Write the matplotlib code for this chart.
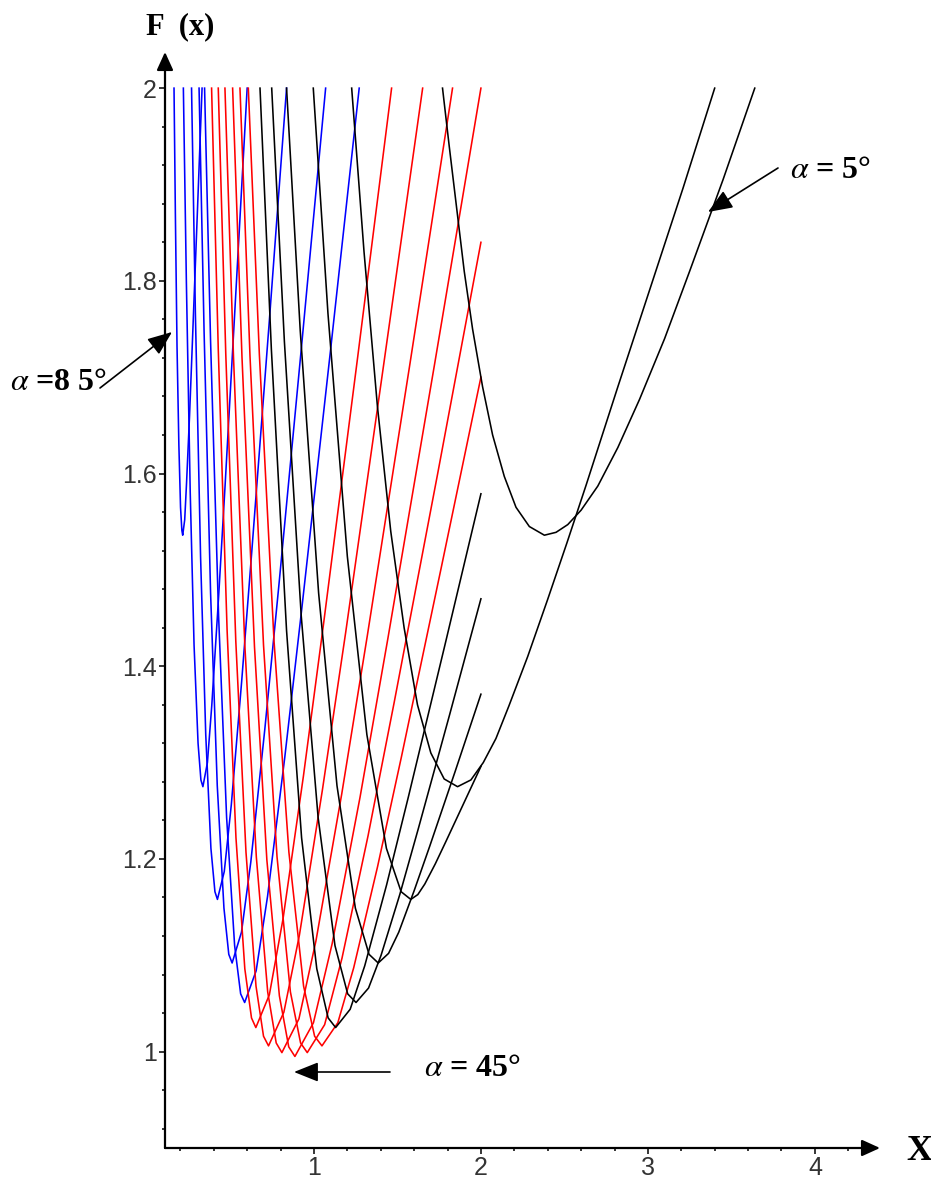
import matplotlib.pyplot as plt

# F(x) curves, one per angle alpha (degrees)
# each curve: left branch from F=2 down to the minimum, then right branch
a85_x = [0.162, 0.170, 0.180, 0.191, 0.201, 0.209, 0.214, 0.226, 0.237, 0.255, 0.272, 0.301, 0.330]
a85_f = [2.000, 1.871, 1.732, 1.630, 1.565, 1.541, 1.536, 1.552, 1.590, 1.660, 1.736, 1.867, 2.000]
a80_x = [0.218, 0.236, 0.259, 0.282, 0.306, 0.323, 0.335, 0.362, 0.388, 0.428, 0.468, 0.534, 0.600]
a80_f = [2.000, 1.799, 1.581, 1.422, 1.320, 1.282, 1.275, 1.300, 1.359, 1.469, 1.588, 1.793, 2.000]
a75_x = [0.267, 0.290, 0.321, 0.352, 0.383, 0.407, 0.422, 0.463, 0.505, 0.567, 0.629, 0.733, 0.836]
a75_f = [2.000, 1.766, 1.514, 1.329, 1.211, 1.166, 1.158, 1.187, 1.256, 1.384, 1.522, 1.759, 2.000]
a70_x = [0.312, 0.342, 0.381, 0.421, 0.461, 0.490, 0.510, 0.566, 0.622, 0.706, 0.790, 0.930, 1.070]
a70_f = [2.000, 1.748, 1.476, 1.276, 1.149, 1.101, 1.092, 1.124, 1.197, 1.335, 1.484, 1.740, 2.000]
a65_x = [0.345, 0.381, 0.429, 0.477, 0.525, 0.561, 0.585, 0.654, 0.722, 0.825, 0.928, 1.100, 1.271]
a65_f = [2.000, 1.737, 1.452, 1.243, 1.110, 1.060, 1.051, 1.084, 1.161, 1.305, 1.461, 1.729, 2.000]
a60_x = [0.387, 0.427, 0.480, 0.533, 0.586, 0.626, 0.652, 0.733, 0.815, 0.937, 1.059, 1.262, 1.465]
a60_f = [2.000, 1.729, 1.437, 1.222, 1.086, 1.035, 1.025, 1.059, 1.138, 1.286, 1.446, 1.721, 2.000]
a55_x = [0.427, 0.472, 0.532, 0.593, 0.653, 0.698, 0.728, 0.820, 0.913, 1.051, 1.190, 1.420, 1.651]
a55_f = [2.000, 1.724, 1.426, 1.207, 1.068, 1.016, 1.006, 1.041, 1.121, 1.272, 1.435, 1.716, 2.000]
a50_x = [0.467, 0.518, 0.586, 0.655, 0.723, 0.774, 0.808, 0.910, 1.012, 1.166, 1.319, 1.575, 1.830]
a50_f = [2.000, 1.722, 1.422, 1.202, 1.062, 1.009, 0.999, 1.034, 1.115, 1.267, 1.431, 1.714, 2.000]
a45_x = [0.513, 0.569, 0.644, 0.718, 0.793, 0.849, 0.886, 0.997, 1.109, 1.276, 1.443, 1.722, 2.000]
a45_f = [2.000, 1.721, 1.420, 1.199, 1.058, 1.005, 0.995, 1.030, 1.112, 1.264, 1.429, 1.713, 2.000]
a40_x = [0.557, 0.617, 0.698, 0.779, 0.859, 0.920, 0.960, 1.064, 1.168, 1.324, 1.480, 1.740, 2.000]
a40_f = [2.000, 1.722, 1.422, 1.202, 1.062, 1.009, 0.999, 1.028, 1.097, 1.224, 1.362, 1.599, 1.840]
a35_x = [0.607, 0.673, 0.761, 0.850, 0.938, 1.004, 1.048, 1.143, 1.238, 1.381, 1.524, 1.762, 2.000]
a35_f = [2.000, 1.724, 1.426, 1.207, 1.068, 1.016, 1.006, 1.030, 1.087, 1.192, 1.306, 1.502, 1.700]
a30_x = [0.677, 0.745, 0.836, 0.926, 1.017, 1.085, 1.130, 1.217, 1.304, 1.435, 1.565, 1.783, 2.000]
a30_f = [2.000, 1.729, 1.437, 1.222, 1.086, 1.035, 1.025, 1.044, 1.089, 1.173, 1.264, 1.421, 1.579]
a25_x = [0.747, 0.823, 0.924, 1.025, 1.126, 1.202, 1.252, 1.327, 1.402, 1.514, 1.626, 1.813, 2.000]
a25_f = [2.000, 1.737, 1.452, 1.243, 1.110, 1.060, 1.051, 1.066, 1.100, 1.163, 1.232, 1.350, 1.470]
a20_x = [0.836, 0.918, 1.028, 1.138, 1.248, 1.330, 1.385, 1.447, 1.508, 1.600, 1.693, 1.846, 2.000]
a20_f = [2.000, 1.748, 1.476, 1.276, 1.149, 1.101, 1.092, 1.102, 1.124, 1.167, 1.213, 1.291, 1.371]
a15_x = [0.996, 1.084, 1.200, 1.317, 1.434, 1.522, 1.580, 1.622, 1.664, 1.727, 1.790, 1.895, 2.000]
a15_f = [2.000, 1.766, 1.514, 1.329, 1.211, 1.166, 1.158, 1.163, 1.174, 1.195, 1.218, 1.257, 1.296]
a10_x = [1.226, 1.300, 1.380, 1.460, 1.540, 1.620, 1.700, 1.780, 1.860, 1.940, 2.014, 2.090,
         2.168, 2.280, 2.399, 2.515, 2.630, 2.820, 3.015, 3.210, 3.400]
a10_f = [2.000, 1.830, 1.670, 1.540, 1.440, 1.360, 1.310, 1.283, 1.275, 1.282, 1.300, 1.325,
         1.359, 1.410, 1.469, 1.528, 1.588, 1.690, 1.793, 1.896, 2.000]
a5_x = [1.770, 1.810, 1.855, 1.900, 1.950, 2.010, 2.070, 2.140, 2.210, 2.290, 2.380,
        2.450, 2.520, 2.600, 2.700, 2.820, 2.950, 3.100, 3.250, 3.450, 3.640]
a5_f = [2.000, 1.940, 1.875, 1.810, 1.750, 1.690, 1.640, 1.597, 1.565, 1.545, 1.536,
        1.539, 1.547, 1.562, 1.587, 1.627, 1.677, 1.740, 1.810, 1.905, 2.000]

angles = [85, 80, 75, 70, 65, 60, 55, 50, 45, 40, 35, 30, 25, 20, 15, 10, 5]
curves_x = [a85_x, a80_x, a75_x, a70_x, a65_x, a60_x, a55_x, a50_x, a45_x,
            a40_x, a35_x, a30_x, a25_x, a20_x, a15_x, a10_x, a5_x]
curves_f = [a85_f, a80_f, a75_f, a70_f, a65_f, a60_f, a55_f, a50_f, a45_f,
            a40_f, a35_f, a30_f, a25_f, a20_f, a15_f, a10_f, a5_f]

x_major = [1, 2, 3, 4]
x_labels = ['1', '2', '3', '4']
x_minor = [0.2, 0.4, 0.6, 0.8, 1.2, 1.4, 1.6, 1.8, 2.2, 2.4, 2.6, 2.8,
           3.2, 3.4, 3.6, 3.8, 4.2]
y_major = [1.0, 1.2, 1.4, 1.6, 1.8, 2.0]
y_labels = ['1', '1.2', '1.4', '1.6', '1.8', '2']
y_minor = [0.92, 0.96, 1.04, 1.08, 1.12, 1.16, 1.24, 1.28, 1.32, 1.36,
           1.44, 1.48, 1.52, 1.56, 1.64, 1.68, 1.72, 1.76, 1.84, 1.88, 1.92, 1.96]

plt.rcParams['mathtext.fontset'] = 'stix'

W, H = 931, 1181
fig = plt.figure(figsize=(W / 100, H / 100), dpi=100)
ax = fig.add_axes([165 / W, 33 / H, 715 / W, 1096 / H])
X0, X1 = 0.108, 4.39
Y0, Y1 = 0.9, 2.0375
ax.set_xlim(X0, X1)
ax.set_ylim(Y0, Y1)

for a, xs, fs in zip(angles, curves_x, curves_f):
   if a >= 65:
      col = '#0000ff'
   elif a >= 35:
      col = '#ff0000'
   else:
      col = 'black'
   ax.plot(xs, fs, color=col, lw=1.15)

# axes drawn as arrows
for s in ax.spines.values():
   s.set_visible(False)
axis_arrow = dict(arrowstyle='-|>,head_length=0.55,head_width=0.25', color='black',
                  lw=1.6, shrinkA=0, shrinkB=0, mutation_scale=20)
ax.annotate('', xy=(X0, Y1), xytext=(X0, Y0), arrowprops=axis_arrow, annotation_clip=False)
ax.annotate('', xy=(X1, Y0), xytext=(X0, Y0), arrowprops=axis_arrow, annotation_clip=False)

ax.set_xticks(x_major)
ax.set_xticklabels(x_labels)
ax.set_xticks(x_minor, minor=True)
ax.set_yticks(y_major)
ax.set_yticklabels(y_labels)
ax.set_yticks(y_minor, minor=True)
ax.tick_params(which='major', direction='out', length=4.5, width=1.1, pad=1.5,
               labelsize=18, labelcolor='#333333')
ax.tick_params(which='minor', direction='out', length=2.5, width=1.1)
for lab in ax.get_xticklabels() + ax.get_yticklabels():
   lab.set_family('Liberation Sans')

# axis titles
fig.text(146 / W, 1 - 27 / H, 'F  (x)', fontsize=22, family='Liberation Serif',
         weight='bold', ha='left', va='center')
fig.text(906 / W, 1 - 1152 / H, 'X', fontsize=26, family='Liberation Serif',
         weight='bold', ha='left', va='center')

# angle labels with arrows (figure pixel positions)
note_arrow = dict(arrowstyle='-|>,head_length=0.75,head_width=0.3', color='black',
                  lw=1.2, shrinkA=0, shrinkB=0, mutation_scale=20)
ax.annotate('', xy=(708, H - 212), xytext=(778, H - 168), xycoords='figure pixels',
            textcoords='figure pixels', arrowprops=note_arrow, annotation_clip=False)
ax.annotate('', xy=(294, H - 1072), xytext=(390, H - 1072), xycoords='figure pixels',
            textcoords='figure pixels', arrowprops=note_arrow, annotation_clip=False)
ax.annotate('', xy=(172, H - 332), xytext=(100, H - 388), xycoords='figure pixels',
            textcoords='figure pixels', arrowprops=note_arrow, annotation_clip=False)

lbl = dict(fontsize=23, family='Liberation Serif', weight='bold', ha='left', va='center')
fig.text(790 / W, 1 - 170 / H, r'$\alpha$ = 5°', **lbl)
fig.text(424 / W, 1 - 1068 / H, r'$\alpha$ = 45°', **lbl)
fig.text(10 / W, 1 - 382 / H, r'$\alpha$ =8 5°', **lbl)

plt.savefig('out.png', dpi=100, facecolor='white')
